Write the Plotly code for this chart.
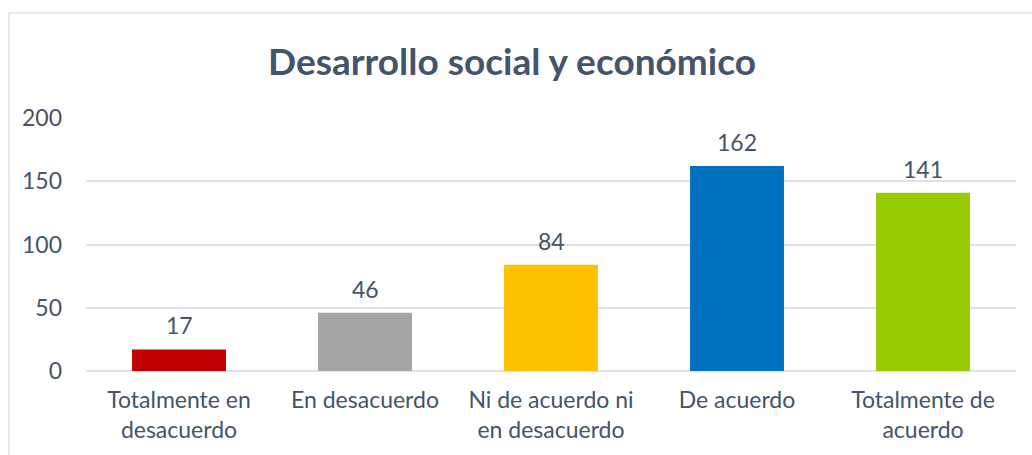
import plotly.graph_objects as go

categories = ["Totalmente en<br>desacuerdo", "En desacuerdo", "Ni de acuerdo ni<br>en desacuerdo", "De acuerdo", "Totalmente de<br>acuerdo"]
values = [17, 46, 84, 162, 141]
colors = ["#C00000", "#A5A5A5", "#FFC000", "#0070C0", "#99CC00"]
y_ticks = [0, 50, 100, 150, 200]

W, H = 1032, 455
L, R, T, B = 86, 16, 118, 84
txt = "#44546A"
grid = "#DDE2E8"
font = "Lato"
fs = 23

fig = go.Figure()
fig.add_trace(go.Bar(
    x=categories, y=values, marker=dict(color=colors, line=dict(width=0)),
    width=0.505, hoverinfo="skip",
))
for c, v in zip(categories, values):
    fig.add_annotation(x=c, y=v, text=str(v), showarrow=False, yanchor="bottom",
                       yshift=8, font=dict(family=font, size=fs, color=txt))

pw = W - L - R
ph = H - T - B
# chart-area border (left and top edges visible)
fig.add_shape(type="line", xref="paper", yref="paper",
              x0=(9 - L) / pw, x1=(W + 5 - L) / pw, y0=(H - 13 - B) / ph, y1=(H - 13 - B) / ph,
              line=dict(color=grid, width=1.5))
fig.add_shape(type="line", xref="paper", yref="paper",
              x0=(9 - L) / pw, x1=(9 - L) / pw, y0=(H - 13 - B) / ph, y1=(-5 - B) / ph,
              line=dict(color=grid, width=1.5))

fig.update_layout(
    width=W, height=H,
    margin=dict(l=L, r=R, t=T, b=B),
    paper_bgcolor="white", plot_bgcolor="white",
    showlegend=False,
    title=dict(text="<b>Desarrollo social y económico</b>", x=512 / W, xref="container", xanchor="center",
               y=1 - 62 / H, yanchor="middle", yref="container",
               font=dict(family=font, size=37, color=txt)),
    xaxis=dict(showgrid=False, showline=False, ticks="", tickfont=dict(family=font, size=fs, color=txt),
               ticklabelstandoff=13),
    yaxis=dict(range=[0, 200], tickvals=y_ticks, showgrid=True, gridcolor=grid, gridwidth=1.5,
               zeroline=True, zerolinecolor=grid, zerolinewidth=1.5, showline=False, ticks="",
               tickfont=dict(family=font, size=fs, color=txt), ticklabelstandoff=23),
)
fig.write_html("out.html")
